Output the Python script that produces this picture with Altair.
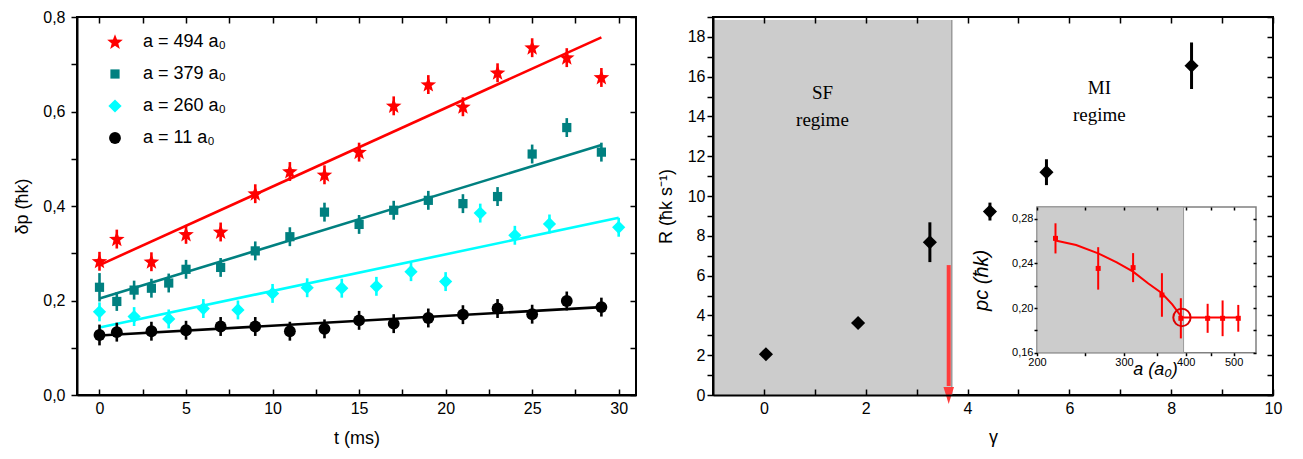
import math
import altair as alt
import pandas as pd

FONT = "Liberation Sans"
SERIF = "Liberation Serif"

# ---------------- left panel data ----------------
series_labels = ["a = 494 a₀", "a = 379 a₀", "a = 260 a₀", "a = 11 a₀"]
series_colors = ["#ff0000", "#008080", "#00ffff", "#000000"]

t_494 = [0, 1, 3, 5, 7, 9, 11, 13, 15, 17, 19, 21, 23, 25, 27, 29]
dp_494 = [0.283, 0.330, 0.282, 0.340, 0.345, 0.426, 0.473, 0.466, 0.514, 0.612, 0.657, 0.610, 0.682, 0.735, 0.714, 0.672]
err_494 = [0.02, 0.02, 0.02, 0.02, 0.02, 0.02, 0.02, 0.02, 0.02, 0.02, 0.02, 0.02, 0.02, 0.02, 0.02, 0.02]

t_379 = [0, 1, 2, 3, 4, 5, 7, 9, 11, 13, 15, 17, 19, 21, 23, 25, 27, 29]
dp_379 = [0.228, 0.198, 0.222, 0.226, 0.237, 0.266, 0.270, 0.305, 0.335, 0.387, 0.361, 0.391, 0.412, 0.405, 0.420, 0.510, 0.566, 0.514]
err_379 = [0.03, 0.02, 0.02, 0.02, 0.02, 0.02, 0.02, 0.02, 0.02, 0.02, 0.02, 0.02, 0.02, 0.02, 0.02, 0.02, 0.02, 0.02]

t_260 = [0, 2, 4, 6, 8, 10, 12, 14, 16, 18, 20, 22, 24, 26, 30]
dp_260 = [0.176, 0.166, 0.161, 0.183, 0.180, 0.215, 0.227, 0.226, 0.230, 0.261, 0.240, 0.385, 0.338, 0.362, 0.355]
err_260 = [0.02, 0.02, 0.02, 0.02, 0.02, 0.02, 0.02, 0.02, 0.02, 0.02, 0.02, 0.02, 0.02, 0.02, 0.02]

t_11 = [0, 1, 3, 5, 7, 9, 11, 13, 15, 17, 19, 21, 23, 25, 27, 29]
dp_11 = [0.127, 0.133, 0.135, 0.137, 0.145, 0.145, 0.135, 0.140, 0.158, 0.151, 0.163, 0.170, 0.183, 0.171, 0.199, 0.186]
err_11 = [0.022, 0.02, 0.02, 0.02, 0.02, 0.02, 0.02, 0.02, 0.02, 0.02, 0.02, 0.02, 0.02, 0.02, 0.02, 0.02]

# linear fits (end points)
fit_t_494, fit_dp_494 = [0, 29], [0.275, 0.757]
fit_t_379, fit_dp_379 = [0, 29], [0.204, 0.529]
fit_t_260, fit_dp_260 = [0, 30], [0.143, 0.375]
fit_t_11, fit_dp_11 = [0, 29], [0.126, 0.186]

left_xticks = [0, 2.5, 5, 7.5, 10, 12.5, 15, 17.5, 20, 22.5, 25, 27.5, 30]
left_xlabels = [0, 5, 10, 15, 20, 25, 30]
left_yticks = [0.0, 0.1, 0.2, 0.3, 0.4, 0.5, 0.6, 0.7, 0.8]

# ---------------- right panel data ----------------
gamma = [0.04, 1.85, 3.26, 4.44, 5.55, 8.40]
rate = [2.05, 3.62, 7.68, 9.22, 11.2, 16.55]
rate_err = [0.15, 0.15, 1.0, 0.45, 0.65, 1.17]

sf_gamma = [-1.0, 3.69]
sf_rate = [0.0, 18.85]
arrow_gamma = [3.63]
arrow_rate = [6.53, 0.45]
arrow_tip_rate = [-0.03]

regime_gamma = [1.15, 6.59]
regime_rate = [15.18, 15.42]
regime_text = ["SF\nregime", "MI\nregime"]

right_xticks = [0, 1, 2, 3, 4, 5, 6, 7, 8, 9, 10]
right_xlabels = [0, 2, 4, 6, 8, 10]
right_yticks = list(range(0, 20))

# ---------------- inset data ----------------
a_pts = [218, 266, 313, 358, 391, 443, 475, 511]
pc_pts = [0.2624, 0.2355, 0.2362, 0.2117, 0.1908, 0.1908, 0.1908, 0.1908]
pc_err = [0.0135, 0.019, 0.013, 0.0195, 0.018, 0.013, 0.016, 0.012]
curve_a = [218, 240, 266, 290, 313, 336, 358, 376, 393, 443, 475, 511]
curve_pc = [0.2605, 0.2565, 0.249, 0.241, 0.2326, 0.222, 0.2132, 0.203, 0.1915, 0.1915, 0.1915, 0.1915]
circle_a = [393]
circle_pc = [0.1915]
inset_a_dom = [200, 555]
inset_pc_dom = [0.16, 0.2905]
inset_sf_a = [200, 396]
inset_xticks = [200, 250, 300, 350, 400, 450, 500]
inset_yticks = [0.16, 0.18, 0.20, 0.22, 0.24, 0.26, 0.28]

# ---------------- geometry ----------------
LW, LH = 559, 378
RW, RH = 560, 378
INSET_X = [324, 543]      # pixel range of inset inside the right plot
INSET_Y = [335.7, 190]

# star symbol
_pts = []
for i in range(10):
    ang = math.radians(-90 + 36 * i)
    r = 1.0 if i % 2 == 0 else 0.42
    _pts.append(f"{r * math.cos(ang):.3f},{r * math.sin(ang) + 0.05:.3f}")
STAR = "M" + " L".join(_pts) + " Z"
TRI_DOWN = "M-0.62,-1 L0.62,-1 L0,1 Z"

# ---------------- left chart ----------------
rows = []
for lab, ts, ds, es in zip(series_labels, [t_494, t_379, t_260, t_11],
                           [dp_494, dp_379, dp_260, dp_11],
                           [err_494, err_379, err_260, err_11]):
    for t, d, e in zip(ts, ds, es):
        rows.append({"series": lab, "t": t, "dp": d, "lo": d - e, "hi": d + e})
df_pts = pd.DataFrame(rows)

frows = []
for lab, ts, ds in zip(series_labels, [fit_t_494, fit_t_379, fit_t_260, fit_t_11],
                       [fit_dp_494, fit_dp_379, fit_dp_260, fit_dp_11]):
    for t, d in zip(ts, ds):
        frows.append({"series": lab, "t": t, "dp": d})
df_fit = pd.DataFrame(frows)

xl = alt.Scale(domain=[-1.3, 31], nice=False, zero=False)
yl = alt.Scale(domain=[0, 0.8], nice=False, zero=False)
col_sc = alt.Scale(domain=series_labels, range=series_colors)
shp_sc = alt.Scale(domain=series_labels, range=[STAR, "square", "diamond", "circle"])
siz_sc = alt.Scale(type="ordinal", domain=series_labels, range=[270, 85, 175, 140])

leg = alt.Legend(orient="none", legendX=29, legendY=16, title=None, labelFont=FONT,
                 labelFontSize=18, symbolSize=120, rowPadding=14, labelOffset=19,
                 padding=0, symbolStrokeWidth=0)

left_fit = alt.Chart(df_fit).mark_line(strokeWidth=2.6).encode(
    x=alt.X("t:Q", scale=xl, axis=alt.Axis(orient="bottom", offset=-LH, values=left_xticks,
                                             labels=False, domain=False, tickSize=6, title=None,
                                             zindex=1)),
    y=alt.Y("dp:Q", scale=yl, axis=None),
    color=alt.Color("series:N", scale=col_sc, sort=series_labels),
    detail="series:N",
)
left_err = alt.Chart(df_pts).mark_rule(strokeWidth=2.6).encode(
    x=alt.X("t:Q", scale=xl, axis=alt.Axis(orient="top", offset=-LH, values=left_xticks,
                                             labels=False, domain=False, tickSize=6, title=None,
                                             zindex=1)),
    y=alt.Y("lo:Q", scale=yl, axis=alt.Axis(orient="left", offset=-LW, values=left_yticks,
                                              labels=False, domain=False, tickSize=6, title=None,
                                              zindex=1)),
    y2="hi:Q",
    color=alt.Color("series:N", scale=col_sc, sort=series_labels),
)
left_pts = alt.Chart(df_pts).mark_point(filled=True, opacity=1).encode(
    x=alt.X("t:Q", scale=xl, axis=alt.Axis(orient="bottom", values=left_xlabels, ticks=False,
                                             tickSize=0, labelPadding=5, title="t (ms)",
                                             titlePadding=13, zindex=1)),
    y=alt.Y("dp:Q", scale=yl, axis=alt.Axis(orient="left", values=left_yticks, tickSize=6,
                                              labelPadding=6, title="δp (ħk)", titlePadding=11,
                                              labelExpr="round(datum.value*10) % 2 == 0 ? replace(format(datum.value, '.1f'), '.', ',') : ''",
                                              zindex=1)),
    color=alt.Color("series:N", scale=col_sc, legend=leg, sort=series_labels),
    shape=alt.Shape("series:N", scale=shp_sc, legend=leg, sort=series_labels),
    size=alt.Size("series:N", scale=siz_sc, legend=None),
)
left = alt.layer(left_fit, left_err, left_pts).resolve_axis(
    x="independent", y="independent").properties(width=LW, height=LH)

# ---------------- right chart (main) ----------------
xr = alt.Scale(domain=[-1, 10], nice=False, zero=False)
yr = alt.Scale(domain=[0, 19], nice=False, zero=False)

df_rate = pd.DataFrame({"g": gamma, "R": rate,
                        "lo": [r - e for r, e in zip(rate, rate_err)],
                        "hi": [r + e for r, e in zip(rate, rate_err)]})
df_sf = pd.DataFrame({"g0": [sf_gamma[0]], "g1": [sf_gamma[1]], "r0": [sf_rate[0]], "r1": [sf_rate[1]]})
df_arrow = pd.DataFrame({"g": arrow_gamma, "r0": [arrow_rate[0]], "r1": [arrow_rate[1]], "tip": arrow_tip_rate})
df_reg = pd.DataFrame({"g": regime_gamma, "R": regime_rate, "txt": regime_text})

sf_rect = alt.Chart(df_sf).mark_rect(color="#cccccc").encode(
    x=alt.X("g0:Q", scale=xr, axis=None), x2="g1:Q",
    y=alt.Y("r0:Q", scale=yr, axis=None), y2="r1:Q")
sf_edge = alt.Chart(df_sf).mark_rule(color="#9a9a9a", strokeWidth=1.5).encode(
    x=alt.X("g1:Q", scale=xr, axis=alt.Axis(orient="bottom", offset=-RH, values=right_xticks,
                                              labels=False, domain=False, tickSize=6, title=None,
                                              zindex=1)),
    y=alt.Y("r0:Q", scale=yr, axis=None), y2="r1:Q")
r_err = alt.Chart(df_rate).mark_rule(strokeWidth=3, color="black").encode(
    x=alt.X("g:Q", scale=xr, axis=alt.Axis(orient="top", offset=-RH, values=right_xticks,
                                             labels=False, domain=False, tickSize=6, title=None,
                                             zindex=1)),
    y=alt.Y("lo:Q", scale=yr, axis=alt.Axis(orient="left", offset=-RW, values=right_yticks,
                                              labels=False, domain=False, tickSize=6, title=None,
                                              zindex=1)),
    y2="hi:Q")
r_pts = alt.Chart(df_rate).mark_point(shape="diamond", filled=True, size=200, color="black", opacity=1).encode(
    x=alt.X("g:Q", scale=xr, axis=alt.Axis(orient="bottom", values=right_xlabels, ticks=False,
                                             tickSize=0, labelPadding=5, title="γ",
                                             titlePadding=12, zindex=1)),
    y=alt.Y("R:Q", scale=yr, axis=alt.Axis(orient="left", values=right_yticks, tickSize=6,
                                             labelPadding=2, title="R (ħk s⁻¹)", titlePadding=12,
                                             labelExpr="datum.value % 2 == 0 ? format(datum.value, 'd') : ''",
                                             zindex=1)))
r_txt = alt.Chart(df_reg).mark_text(font=SERIF, fontSize=19, lineBreak="\n", lineHeight=27,
                                    color="black", baseline="middle").encode(
    x=alt.X("g:Q", scale=xr, axis=None), y=alt.Y("R:Q", scale=yr, axis=None), text="txt:N")
arr_shaft = alt.Chart(df_arrow).mark_rule(color="#ff3c3c", strokeWidth=4).encode(
    x=alt.X("g:Q", scale=xr, axis=None), y=alt.Y("r0:Q", scale=yr, axis=None), y2="r1:Q")
arr_head = alt.Chart(df_arrow).mark_point(shape=TRI_DOWN, filled=True, size=289, color="#ff3c3c", opacity=1).encode(
    x=alt.X("g:Q", scale=xr, axis=None), y=alt.Y("tip:Q", scale=yr, axis=None))

main_right = alt.layer(sf_rect, sf_edge, r_err, r_pts, r_txt, arr_shaft, arr_head).resolve_axis(
    x="independent", y="independent")

# ---------------- inset ----------------
xa = alt.Scale(type="log", domain=inset_a_dom, range=INSET_X, nice=False)
ya = alt.Scale(domain=inset_pc_dom, range=INSET_Y, nice=False, zero=False)

df_ibox = pd.DataFrame({"a0": [inset_a_dom[0]], "a1": [inset_a_dom[1]],
                        "p0": [inset_pc_dom[0]], "p1": [inset_pc_dom[1]], "s1": [inset_sf_a[1]]})
df_ipts = pd.DataFrame({"a": a_pts, "pc": pc_pts,
                        "lo": [p - e for p, e in zip(pc_pts, pc_err)],
                        "hi": [p + e for p, e in zip(pc_pts, pc_err)]})
df_icurve = pd.DataFrame({"a": curve_a, "pc": curve_pc})
df_icirc = pd.DataFrame({"a": circle_a, "pc": circle_pc})

i_bg = alt.Chart(df_ibox).mark_rect(fill="white", stroke="#808080", strokeWidth=1.5).encode(
    x=alt.X("a0:Q", scale=xa, axis=alt.Axis(orient="bottom", offset=INSET_Y[0] - RH,
                                              values=inset_xticks, tickSize=3, domain=False,
                                              labelFontSize=11, labelPadding=1,
                                              labelExpr="datum.value % 100 == 0 ? format(datum.value, 'd') : ''",
                                              title="a (a₀)", titleFontSize=18, titleFontStyle="italic",
                                              titleX=442, titleY=22, titleBaseline="alphabetic",
                                              zindex=1)),
    x2="a1:Q",
    y=alt.Y("p0:Q", scale=ya, axis=alt.Axis(orient="left", offset=-INSET_X[0],
                                              values=inset_yticks, tickSize=3, domain=False,
                                              labelFontSize=11, labelPadding=1,
                                              labelExpr="round(datum.value*100) % 4 == 0 ? replace(format(datum.value, '.2f'), '.', ',') : ''",
                                              title="pc (ħk)", titleFontSize=20, titleFontStyle="italic",
                                              titleX=-50, titleY=(INSET_Y[0] + INSET_Y[1]) / 2,
                                              titleAngle=270, titleAlign="center",
                                              titleBaseline="alphabetic", zindex=1)),
    y2="p1:Q")
i_sf = alt.Chart(df_ibox).mark_rect(fill="#cccccc", stroke="#9a9a9a", strokeWidth=1).encode(
    x=alt.X("a0:Q", scale=xa, axis=alt.Axis(orient="bottom", offset=INSET_Y[1] - RH,
                                              values=inset_xticks, tickSize=3, labels=False,
                                              domain=False, title=None, zindex=1)),
    x2="s1:Q",
    y=alt.Y("p0:Q", scale=ya, axis=alt.Axis(orient="left", offset=-INSET_X[1],
                                              values=inset_yticks, tickSize=3, labels=False,
                                              domain=False, title=None, zindex=1)),
    y2="p1:Q")
i_curve = alt.Chart(df_icurve).mark_line(color="#ff0000", strokeWidth=2).encode(
    x=alt.X("a:Q", scale=xa, axis=None), y=alt.Y("pc:Q", scale=ya, axis=None))
i_err = alt.Chart(df_ipts).mark_rule(color="#ff0000", strokeWidth=2).encode(
    x=alt.X("a:Q", scale=xa, axis=None), y=alt.Y("lo:Q", scale=ya, axis=None), y2="hi:Q")
i_pts = alt.Chart(df_ipts).mark_point(shape="square", filled=True, size=25, color="#ff0000", opacity=1).encode(
    x=alt.X("a:Q", scale=xa, axis=None), y=alt.Y("pc:Q", scale=ya, axis=None))
i_circ = alt.Chart(df_icirc).mark_point(shape="circle", filled=False, size=300, strokeWidth=2,
                                        color="#dd0000", opacity=1).encode(
    x=alt.X("a:Q", scale=xa, axis=None), y=alt.Y("pc:Q", scale=ya, axis=None))

inset = alt.layer(i_bg, i_sf, i_curve, i_err, i_pts, i_circ).resolve_axis(
    x="independent", y="independent")

right = alt.layer(main_right, inset).resolve_scale(
    x="independent", y="independent").properties(width=RW, height=RH)

chart = alt.hconcat(left, right, spacing=18).properties(
    padding={"left": 4, "top": 0, "right": 5, "bottom": 5}
).configure_view(stroke="black", strokeWidth=2).configure_axis(
    labelFont=FONT, titleFont=FONT, labelFontSize=16, titleFontSize=18,
    titleFontWeight="normal", labelColor="black", titleColor="black",
    tickColor="black", domainColor="black", domainWidth=2, tickWidth=1.5,
    grid=False, labelFlush=False, labelOverlap=False
)

chart.save("out.html", embed_options={"renderer": "svg", "actions": False})
